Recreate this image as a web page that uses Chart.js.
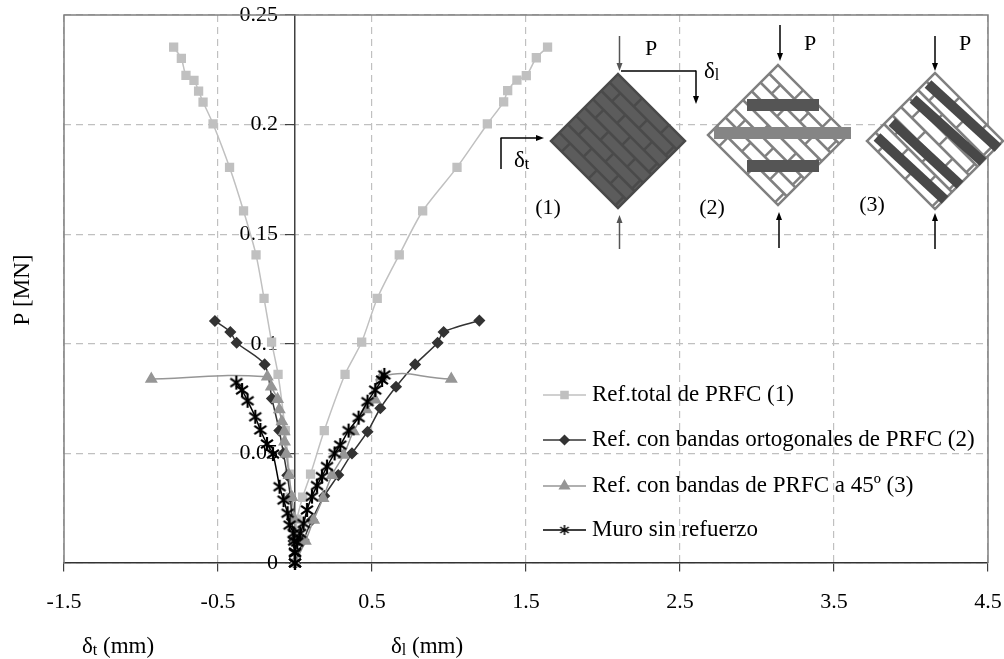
<!DOCTYPE html>
<html>
<head>
<meta charset="utf-8">
<title>P - delta</title>
<style>
html, body { margin: 0; padding: 0; background: #fff; overflow: hidden; }
canvas { display: block; }
</style>
<script src="https://cdn.jsdelivr.net/npm/chart.js@4/dist/chart.umd.min.js"></script>
</head>
<body>
<canvas id="myChart" width="1004" height="659"></canvas>
<script>
// tick labels
const xTicks = [-1.5, -0.5, 0.5, 1.5, 2.5, 3.5, 4.5];
const yTicks = [0, 0.05, 0.1, 0.15, 0.2, 0.25];

const legendNames = [
    "Ref.total de PRFC (1)",
    "Ref. con bandas ortogonales de PRFC (2)",
    "Ref. con bandas de PRFC a 45º (3)",
    "Muro sin refuerzo"
];

// values, [delta, P]
const totalLeft = [[-0.788,0.2353],[-0.738,0.2302],[-0.708,0.2225],[-0.656,0.2202],[-0.626,0.2153],[-0.597,0.2103],[-0.532,0.2003],[-0.425,0.1805],[-0.334,0.1606],[-0.253,0.1406],[-0.201,0.1207],[-0.152,0.1008],[-0.110,0.0861],[-0.063,0.0604],[-0.037,0.0405],[-0.031,0.03],[-0.02,0.02],[-0.01,0.01],[0,0]];
const totalRight = [[1.640,0.2353],[1.567,0.2305],[1.502,0.2223],[1.441,0.2203],[1.381,0.2155],[1.355,0.2104],[1.249,0.2003],[1.052,0.1805],[0.829,0.1606],[0.677,0.1406],[0.534,0.1207],[0.433,0.1008],[0.325,0.0861],[0.190,0.0604],[0.101,0.0405],[0.05,0.03],[0.013,0.02],[0.005,0.01],[0,0]];

const bandsLeft = [[-0.52,0.1104],[-0.42,0.1054],[-0.379,0.1005],[-0.197,0.0906],[-0.15,0.075],[-0.102,0.0604],[-0.075,0.05],[-0.05,0.04],[-0.03,0.03],[-0.02,0.02],[-0.01,0.01],[0,0]];
const bandsRight = [[1.197,0.1106],[0.965,0.1054],[0.926,0.1005],[0.78,0.0906],[0.656,0.0804],[0.554,0.0706],[0.471,0.0599],[0.37,0.05],[0.281,0.0401],[0.19,0.0306],[0.11,0.0196],[0.056,0.0105],[0,0]];

const diagLeft = [[-0.933,0.0839],[-0.18,0.085],[-0.154,0.0804],[-0.113,0.0747],[-0.102,0.07],[-0.085,0.0645],[-0.07,0.06],[-0.068,0.0553],[-0.056,0.0497],[-0.039,0.04],[-0.02,0.03],[-0.005,0.02],[0,0.01],[0,0]];
const diagRight = [[1.015,0.0839],[0.56,0.085],[0.52,0.0745],[0.463,0.07],[0.38,0.06],[0.316,0.0493],[0.24,0.04],[0.182,0.0295],[0.121,0.0196],[0.067,0.01],[0,0]];

const plainLeft = [[-0.381,0.0823],[-0.344,0.0789],[-0.308,0.074],[-0.258,0.0667],[-0.225,0.0607],[-0.182,0.0543],[-0.143,0.0497],[-0.1,0.0348],[-0.074,0.0287],[-0.048,0.0227],[-0.035,0.0173],[-0.009,0.0135],[-0.005,0.01],[0,0.005],[0,0]];
const plainRight = [[0.58,0.0858],[0.565,0.0835],[0.521,0.0789],[0.471,0.0736],[0.413,0.0663],[0.348,0.0604],[0.294,0.0538],[0.257,0.05],[0.208,0.044],[0.175,0.0394],[0.143,0.0353],[0.11,0.0303],[0.078,0.0242],[0.056,0.018],[0.034,0.0135],[0.015,0.0095],[0,0.0045],[0,0]];

const serif = '"Liberation Serif", "Times New Roman", serif';

// six armed star like the one of the original, the library one has eight
function starMarker(size, width) {
    const c = document.createElement("canvas");
    c.width = size;
    c.height = size;
    const g = c.getContext("2d");
    const m = size / 2;
    const d = m - 1;
    g.strokeStyle = "#000";
    g.lineWidth = width;
    g.beginPath();
    g.moveTo(m, m - d);
    g.lineTo(m, m + d);
    g.moveTo(m - d * 0.85, m - d * 0.6);
    g.lineTo(m + d * 0.85, m + d * 0.6);
    g.moveTo(m - d * 0.85, m + d * 0.6);
    g.lineTo(m + d * 0.85, m - d * 0.6);
    g.stroke();
    return c;
}

const seriesStyles = [
    { color: "#c0c0c0", pointStyle: "rect", radius: 5.5, legendRadius: 5, order: 3, tension: 0.25 },
    { color: "#333333", pointStyle: "rectRot", radius: 5, legendRadius: 4.5, order: 2, tension: 0.25 },
    { color: "#969696", pointStyle: "triangle", radius: 6, legendRadius: 5.5, order: 1, tension: 0.5 },
    { color: "#000000", pointStyle: starMarker(16, 2.2), legendStyle: starMarker(12, 1.5), radius: 6, legendRadius: 5, order: 0, tension: 0.25 }
];

function makeDataset(pairs, styleIdx, name) {
    const s = seriesStyles[styleIdx];
    return {
        label: name,
        data: pairs.map(p => ({ x: p[0], y: p[1] })),
        showLine: true,
        tension: s.tension,
        borderColor: s.color,
        backgroundColor: s.color,
        borderWidth: 1.5,
        pointStyle: s.pointStyle,
        pointRadius: s.radius,
        pointBorderColor: s.color,
        pointBackgroundColor: s.color,
        pointBorderWidth: 1.5,
        order: s.order,
        clip: false
    };
}

// text with a small subscript, for the deltas
function subText(ctx, main, sub, x, y, size) {
    ctx.font = size + "px " + serif;
    ctx.textAlign = "left";
    ctx.textBaseline = "alphabetic";
    ctx.fillText(main, x, y);
    const w = ctx.measureText(main).width;
    ctx.font = Math.round(size * 0.7) + "px " + serif;
    ctx.fillText(sub, x + w, y + 2);
    return x + w + ctx.measureText(sub).width;
}

function arrow(ctx, x1, y1, x2, y2, color) {
    const a = Math.atan2(y2 - y1, x2 - x1);
    ctx.strokeStyle = color;
    ctx.fillStyle = color;
    ctx.lineWidth = 1.5;
    ctx.beginPath();
    ctx.moveTo(x1, y1);
    ctx.lineTo(x2 - 5 * Math.cos(a), y2 - 5 * Math.sin(a));
    ctx.stroke();
    ctx.beginPath();
    ctx.moveTo(x2, y2);
    ctx.lineTo(x2 - 8 * Math.cos(a) - 3 * Math.sin(a), y2 - 8 * Math.sin(a) + 3 * Math.cos(a));
    ctx.lineTo(x2 - 8 * Math.cos(a) + 3 * Math.sin(a), y2 - 8 * Math.sin(a) - 3 * Math.cos(a));
    ctx.closePath();
    ctx.fill();
}

// wall panel turned 45 degrees, bricks run along the local x
function panel(ctx, cx, cy, r, fill, stroke) {
    const s = r * Math.SQRT2;
    ctx.save();
    ctx.translate(cx, cy);
    ctx.rotate(Math.PI / 4);
    ctx.fillStyle = fill;
    ctx.strokeStyle = stroke;
    ctx.lineWidth = 2.5;
    ctx.fillRect(-s / 2, -s / 2, s, s);
    ctx.strokeRect(-s / 2, -s / 2, s, s);
    const rows = 8;
    const h = s / rows;
    ctx.beginPath();
    for (let i = 1; i < rows; i++) {
        ctx.moveTo(-s / 2, -s / 2 + i * h);
        ctx.lineTo(s / 2, -s / 2 + i * h);
    }
    for (let i = 0; i < rows; i++) {
        const y0 = -s / 2 + i * h;
        const start = i % 2 ? s * 0.16 : s * 0.36;
        for (let x = start; x < s; x += s * 0.4) {
            ctx.moveTo(-s / 2 + x, y0);
            ctx.lineTo(-s / 2 + x, y0 + h);
        }
    }
    ctx.stroke();
    ctx.restore();
}

const drawings = {
    id: "drawings",
    beforeDatasetsDraw(chart) {
        const ctx = chart.ctx;
        const a = chart.chartArea;
        ctx.save();
        // plot frame
        ctx.strokeStyle = "#808080";
        ctx.lineWidth = 1.5;
        ctx.beginPath();
        ctx.moveTo(a.left, a.bottom);
        ctx.lineTo(a.left, a.top);
        ctx.lineTo(a.right, a.top);
        ctx.lineTo(a.right, a.bottom);
        ctx.stroke();
        ctx.restore();
    },
    afterDraw(chart) {
        const ctx = chart.ctx;
        ctx.save();

        // panels
        panel(ctx, 618, 141, 67, "#5c5c5c", "#4a4a4a");
        panel(ctx, 778, 135, 70, "#ffffff", "#808080");
        panel(ctx, 935, 141, 68, "#ffffff", "#808080");

        // bands of panel 2
        ctx.fillStyle = "#555555";
        ctx.fillRect(747, 99, 72, 12);
        ctx.fillRect(747, 160, 72, 12);
        ctx.fillStyle = "#858585";
        ctx.fillRect(714, 127, 137, 12);

        // bands of panel 3
        ctx.strokeStyle = "#484848";
        ctx.lineWidth = 10;
        [[928, 84, 998, 148], [913, 99, 983, 162], [892, 122, 960, 185], [877, 137, 945, 200]].forEach(b => {
            ctx.beginPath();
            ctx.moveTo(b[0], b[1]);
            ctx.lineTo(b[2], b[3]);
            ctx.stroke();
        });

        // load arrows
        arrow(ctx, 619.5, 36, 619.5, 71, "#555555");
        arrow(ctx, 619.5, 249, 619.5, 215, "#555555");
        arrow(ctx, 780, 25, 780, 61, "#000000");
        arrow(ctx, 779, 248, 779, 212, "#000000");
        arrow(ctx, 935, 36, 935, 71, "#000000");
        arrow(ctx, 935, 249, 935, 213, "#000000");

        // displacement arrows
        ctx.strokeStyle = "#000";
        ctx.lineWidth = 1.5;
        ctx.beginPath();
        ctx.moveTo(621, 71);
        ctx.lineTo(696, 71);
        ctx.stroke();
        arrow(ctx, 696, 70.5, 696, 104, "#000000");
        ctx.beginPath();
        ctx.moveTo(501, 169);
        ctx.lineTo(501, 138);
        ctx.stroke();
        arrow(ctx, 500.5, 138, 544, 138, "#000000");

        // inset text
        ctx.fillStyle = "#000";
        subText(ctx, "δ", "l", 704, 78, 23);
        subText(ctx, "δ", "t", 514, 167, 23);
        ctx.font = "22px " + serif;
        ctx.textAlign = "center";
        ctx.textBaseline = "alphabetic";
        ctx.fillText("P", 651, 55);
        ctx.fillText("P", 810, 50);
        ctx.fillText("P", 965, 50);
        ctx.fillText("(1)", 548, 214);
        ctx.fillText("(2)", 712, 214);
        ctx.fillText("(3)", 872, 211);

        // legend
        const legendY = [395, 440, 486, 530];
        legendNames.forEach((name, i) => {
            const s = seriesStyles[i];
            ctx.strokeStyle = s.color;
            ctx.lineWidth = 1.5;
            ctx.beginPath();
            ctx.moveTo(543, legendY[i]);
            ctx.lineTo(586, legendY[i]);
            ctx.stroke();
            ctx.fillStyle = s.color;
            Chart.helpers.drawPoint(ctx, { pointStyle: s.legendStyle || s.pointStyle, rotation: 0, radius: s.legendRadius, borderWidth: 1 }, 564.5, legendY[i]);
            ctx.fillStyle = "#000";
            ctx.font = "23px " + serif;
            ctx.textAlign = "left";
            ctx.textBaseline = "middle";
            ctx.fillText(name, 592, legendY[i]);
        });

        // axis titles
        ctx.fillStyle = "#000";
        let end = subText(ctx, "δ", "t", 82, 653, 23);
        ctx.font = "23px " + serif;
        ctx.fillText(" (mm)", end, 653);
        end = subText(ctx, "δ", "l", 391, 653, 23);
        ctx.font = "23px " + serif;
        ctx.fillText(" (mm)", end, 653);

        ctx.translate(23, 290);
        ctx.rotate(-Math.PI / 2);
        ctx.textAlign = "center";
        ctx.textBaseline = "middle";
        ctx.font = "23px " + serif;
        ctx.fillText("P [MN]", 0, 0);
        ctx.restore();
    }
};

// no room for the labels, the frame is fixed by layout.padding
function dropLabelPadding(s) {
    s.paddingLeft = 0;
    s.paddingRight = 0;
    s.paddingTop = 0;
    s.paddingBottom = 0;
}

const ctx = document.getElementById("myChart").getContext("2d");
const myChart = new Chart(ctx, {
    type: "scatter",
    plugins: [drawings],
    data: {
        datasets: [
            makeDataset(totalLeft, 0, legendNames[0]),
            makeDataset(totalRight, 0, legendNames[0]),
            makeDataset(bandsLeft, 1, legendNames[1]),
            makeDataset(bandsRight, 1, legendNames[1]),
            makeDataset(diagLeft, 2, legendNames[2]),
            makeDataset(diagRight, 2, legendNames[2]),
            makeDataset(plainLeft, 3, legendNames[3]),
            makeDataset(plainRight, 3, legendNames[3])
        ]
    },
    options: {
        responsive: false,
        animation: false,
        layout: { padding: { left: 64, right: 16, top: 15, bottom: 96 } },
        plugins: { legend: { display: false }, tooltip: { enabled: false } },
        scales: {
            x: {
                type: "linear",
                min: -1.5,
                max: 4.5,
                position: { y: 0 },
                afterBuildTicks: s => { s.ticks = xTicks.map(v => ({ value: v })); },
                afterFit: s => { s.height = 0; dropLabelPadding(s); },
                grid: { color: "#c0c0c0", lineWidth: 1.2, tickColor: "#404040", tickLength: 8, tickWidth: 1.2 },
                border: { color: "#333333", width: 1.5, dash: [7, 5] },
                ticks: {
                    autoSkip: false,
                    maxRotation: 0,
                    minRotation: 0,
                    padding: 18,
                    color: "#000",
                    font: { family: serif, size: 22 },
                    callback: v => String(v)
                }
            },
            y: {
                type: "linear",
                min: 0,
                max: 0.25,
                position: { x: 0 },
                afterBuildTicks: s => { s.ticks = yTicks.map(v => ({ value: v })); },
                afterFit: s => {
                    s.width = 0;
                    dropLabelPadding(s);
                    // labels of an axis at x:0 sit right on it, move them left of the tick marks
                    const compute = s._computeLabelItems.bind(s);
                    s._computeLabelItems = area => compute(area).map(item => {
                        item.options.translation[0] -= 17;
                        return item;
                    });
                },
                grid: { color: "#c0c0c0", lineWidth: 1.2, tickColor: "#404040", tickLength: 9, tickWidth: 1.2 },
                border: { color: "#404040", width: 1.5, dash: [7, 5] },
                ticks: {
                    autoSkip: false,
                    color: "#000",
                    font: { family: serif, size: 22 },
                    callback: v => String(v)
                }
            }
        }
    }
});
</script>
</body>
</html>
